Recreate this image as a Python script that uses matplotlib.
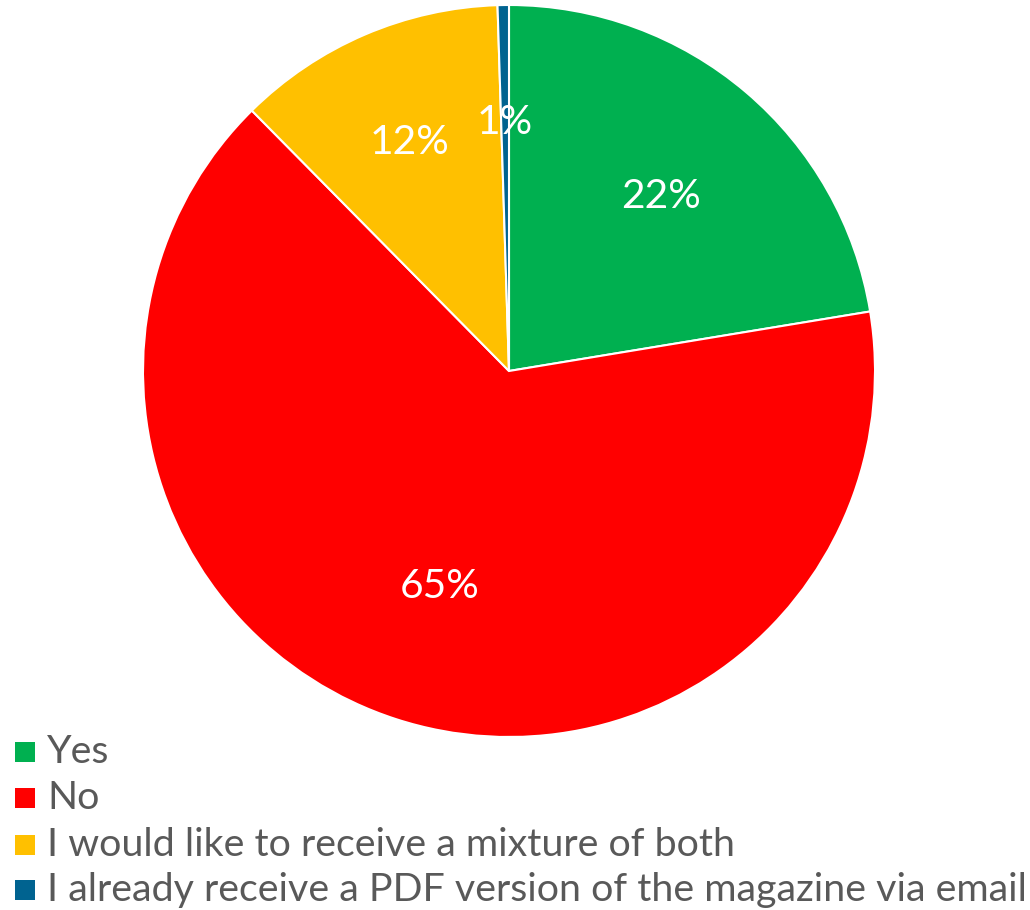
import math
import matplotlib
matplotlib.use("Agg")
import matplotlib.pyplot as plt
from matplotlib.patches import Rectangle

categories = [
    "Yes",
    "No",
    "I would like to receive a mixture of both",
    "I already receive a PDF version of the magazine via email",
]
shares = [22.4, 65.2, 11.9, 0.5]
colors = ["#00B050", "#FF0000", "#FFC000", "#006390"]
label_dist = [0.64, 0.61, 0.69, 0.69]

FONT = "Lato"
TEXT_GRAY = "#595959"

fig = plt.figure(figsize=(10.3, 9.1), dpi=100)
W, H = 1030, 910

# pie area: centre (509, 371) px, radius 366 px
cx, cy, r = 509, 371, 366
ax = fig.add_axes([(cx - r) / W, (H - cy - r) / H, 2 * r / W, 2 * r / H])

wedges, _ = ax.pie(
    shares,
    colors=colors,
    startangle=90,
    counterclock=False,
    radius=1.0,
    wedgeprops=dict(edgecolor="white", linewidth=1.5),
)
ax.set_xlim(-1, 1)
ax.set_ylim(-1, 1)
ax.set_aspect("equal")
ax.axis("off")

total = sum(shares)
start = 90.0
for val, d in zip(shares, label_dist):
    span = 360.0 * val / total
    mid = math.radians(start - span / 2)
    pct = 100.0 * val / total
    ax.text(d * math.cos(mid), d * math.sin(mid) - 0.01, f"{math.floor(pct + 0.5 + 1e-9)}%",
            ha="center", va="center", color="white", fontsize=29.3, family=FONT)
    start -= span

# legend drawn as coloured squares with text rows
rows_y = [752, 798, 845, 890]
for cat, col, y in zip(categories, colors, rows_y):
    fig.patches.append(Rectangle((15 / W, (H - y - 10) / H), 20 / W, 20 / H,
                                 transform=fig.transFigure, facecolor=col, edgecolor="none"))
    fig.text(47 / W, (H - y) / H, cat, ha="left", va="center", color=TEXT_GRAY,
             fontsize=28.4, family=FONT)

fig.savefig("out.png", dpi=100, facecolor="white")
